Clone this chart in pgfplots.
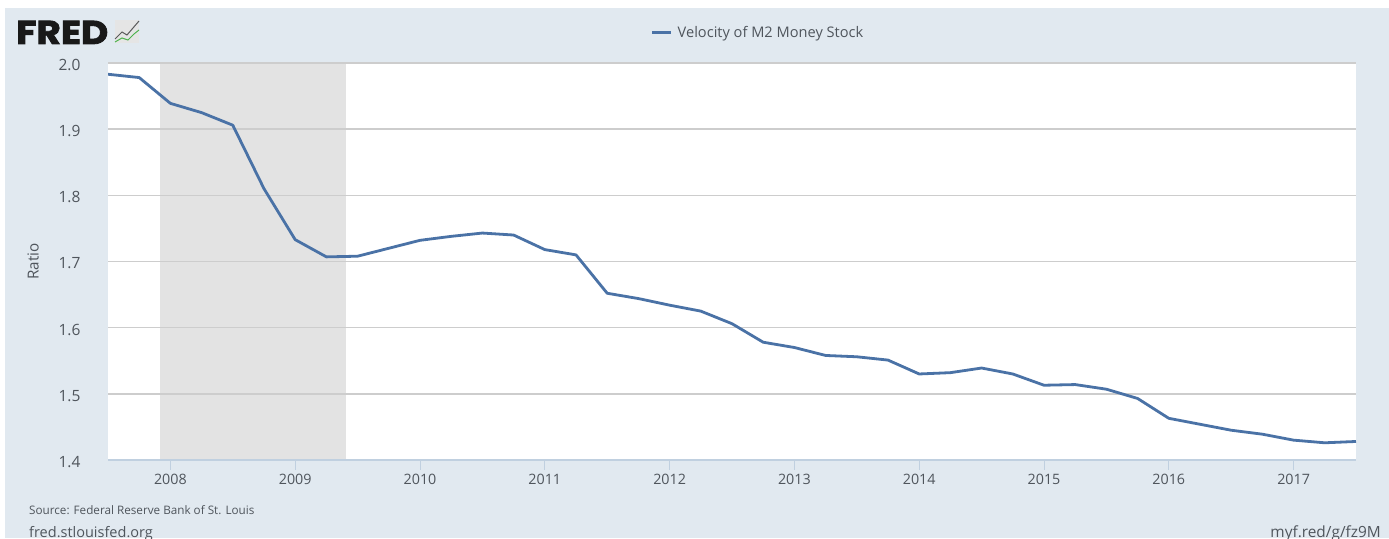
\documentclass[border=0pt]{standalone}
\usepackage{pgfplots}
\pgfplotsset{compat=1.18}
\usepackage{fontspec}
\setmainfont{Open Sans}
\newfontfamily\fredfont[FakeBold=2.5,FakeStretch=1.13]{Poppins}
\definecolor{bgc}{HTML}{E1E9F0}
\definecolor{linec}{HTML}{4A72A6}
\definecolor{txtc}{HTML}{4F555C}
\definecolor{gridc}{HTML}{CDCDCD}
\definecolor{recc}{HTML}{E3E3E3}
\definecolor{tickc}{HTML}{C0D0E0}
\pgfplotstableread{
x y
2007.50 1.983
2007.75 1.978
2008.00 1.939
2008.25 1.925
2008.50 1.906
2008.75 1.810
2009.00 1.733
2009.25 1.707
2009.50 1.708
2009.75 1.720
2010.00 1.732
2010.25 1.738
2010.50 1.743
2010.75 1.740
2011.00 1.718
2011.25 1.710
2011.50 1.652
2011.75 1.644
2012.00 1.634
2012.25 1.625
2012.50 1.606
2012.75 1.578
2013.00 1.570
2013.25 1.558
2013.50 1.556
2013.75 1.551
2014.00 1.530
2014.25 1.532
2014.50 1.539
2014.75 1.530
2015.00 1.513
2015.25 1.514
2015.50 1.507
2015.75 1.493
2016.00 1.463
2016.25 1.454
2016.50 1.445
2016.75 1.439
2017.00 1.430
2017.25 1.426
2017.50 1.428
}\velocity
\pgfplotsset{common/.style={
  at={(108pt,78pt)},anchor=south west,
  scale only axis,width=1248pt,height=397pt,
  xmin=2007.5,xmax=2017.5,ymin=1.4,ymax=2.0,
  axis line style={draw=none},
}}
\begin{document}
\begin{tikzpicture}
\path[use as bounding box] (0pt,0pt) rectangle (1389pt,538pt);
\fill[white] (0pt,0pt) rectangle (1389pt,538pt);
\fill[bgc] (5pt,0pt) rectangle (1389pt,530pt);
\begin{axis}[common,
  axis background/.style={fill=white},
  xtick=\empty,ytick=\empty,
]
\addplot[draw=none,fill=recc] coordinates {(2007.92,1.4) (2007.92,2.0) (2009.41,2.0) (2009.41,1.4)} -- cycle;
\end{axis}
\begin{axis}[common,
  xtick pos=lower,
  xtick={2008,2009,2010,2011,2012,2013,2014,2015,2016,2017},
  xticklabel style={/pgf/number format/1000 sep={},/pgf/number format/assume math mode=true,font=\fontsize{14.3}{16}\selectfont,text=txtc},
  ytick={1.4,1.5,1.6,1.7,1.8,1.9,2.0},
  yticklabel style={/pgf/number format/fixed,/pgf/number format/fixed zerofill,/pgf/number format/precision=1,/pgf/number format/assume math mode=true,font=\fontsize{15.5}{18}\selectfont,text=txtc,yshift=-2pt},
  ymajorgrids,
  grid style={draw=gridc,line width=1.4pt},
  xtick style={draw=tickc,line width=1pt},
  ytick style={draw=none},
  tick align=outside,
  major tick length=10pt,
  xticklabel shift=1pt,
  yticklabel shift=14pt,
  ylabel={Ratio},
  ylabel style={font=\fontsize{15.2}{17}\selectfont,text=txtc,yshift=13pt},
]
\addplot[color=linec,line width=2.8pt,line join=round] table[x=x,y=y] {\velocity};
\end{axis}
\draw[tickc,line width=1.2pt] (108pt,78pt) -- (1356pt,78pt);
\draw[linec,line width=2.8pt] (652pt,505.5pt) -- (671pt,505.5pt);
\node[anchor=west,inner sep=0pt,text=txtc,font=\fontsize{14.6}{16}\selectfont] at (677.5pt,504.5pt) {Velocity of M2 Money Stock};
\node[anchor=base west,inner sep=0pt,text=black!90,font=\fredfont\bfseries\fontsize{33}{33}\selectfont] at (16pt,494pt) {FRED};
\fill[gray!20] (115pt,495pt) rectangle (139pt,518pt);
\draw[gray!70!black,line width=1pt] (115pt,499pt) -- (122pt,506pt) -- (127pt,503pt) -- (133pt,510pt) -- (139pt,517pt);
\draw[green!40!gray,line width=1pt] (115pt,496pt) -- (122pt,500pt) -- (128pt,498pt) -- (134pt,504pt) -- (139pt,508pt);
\node[anchor=base west,inner sep=0pt,text=txtc,font=\fontsize{11.7}{14}\selectfont] at (29pt,23.5pt) {Source: Federal Reserve Bank of St. Louis};
\node[anchor=base west,inner sep=0pt,text=txtc,font=\fontsize{14.5}{17}\selectfont] at (29pt,1pt) {fred.stlouisfed.org};
\node[anchor=base east,inner sep=0pt,text=txtc,font=\fontsize{15.4}{17}\selectfont] at (1381pt,1pt) {myf.red/g/fz9M};
\end{tikzpicture}
\end{document}
